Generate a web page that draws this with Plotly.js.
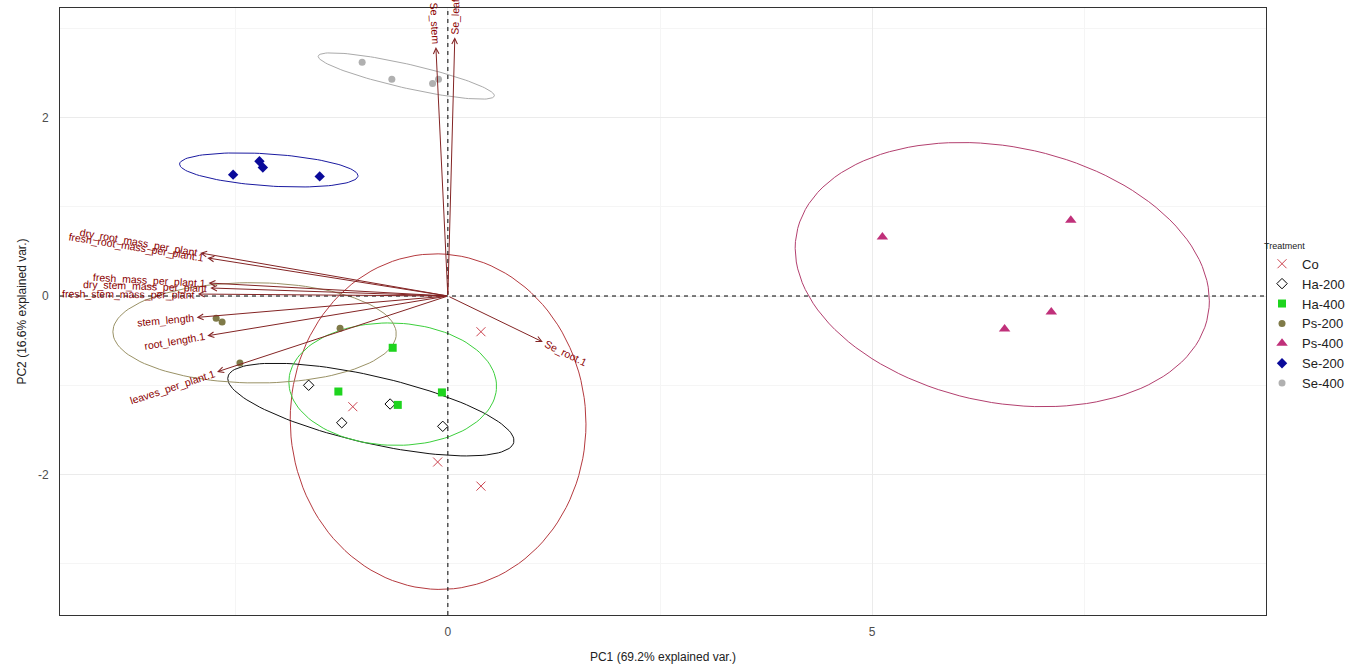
<!DOCTYPE html>
<html><head><meta charset="utf-8">
<script src="https://cdn.plot.ly/plotly-3.0.1.min.js"></script>
<style>html,body{margin:0;padding:0;background:#fff}#chart{width:1352px;height:669px}</style>
</head><body><div id="chart"></div>
<script>
// ---- scores (PC1, PC2) per treatment ----
const groupNames = ['Co','Ha-200','Ha-400','Ps-200','Ps-400','Se-200','Se-400'];
const coX    = [0.39, -1.12, -0.12, 0.39];
const coY    = [-0.40, -1.24, -1.86, -2.13];
const ha200X = [-1.64, -1.25, -0.68, -0.06];
const ha200Y = [-1.00, -1.42, -1.21, -1.46];
const ha400X = [-0.65, -1.29, -0.59, -0.07];
const ha400Y = [-0.58, -1.07, -1.22, -1.08];
const ps200X = [-2.73, -2.66, -1.27, -2.45];
const ps200Y = [-0.25, -0.29, -0.36, -0.75];
const ps400X = [5.12, 7.34, 6.56, 7.11];
const ps400Y = [0.66, 0.85, -0.37, -0.18];
const se200X = [-2.53, -2.22, -2.18, -1.51];
const se200Y = [1.36, 1.51, 1.44, 1.34];
const se400X = [-1.01, -0.66, -0.18, -0.11];
const se400Y = [2.62, 2.43, 2.38, 2.43];

// ---- loadings (arrow ends) ----
const varNames = ['dry_root_mass_per_plant','fresh_root_mass_per_plant.1','fresh_mass_per_plant.1',
  'dry_stem_mass_per_plant','fresh_stem_mass_per_plant','stem_length','root_length.1',
  'leaves_per_plant.1','Se_root.1','Se_stem','Se_leaf'];
const loadX = [-2.92, -2.835, -2.82, -2.80, -2.945, -2.96, -2.835, -2.72, 1.119, -0.141, 0.082];
const loadY = [0.483, 0.427, 0.146, 0.09, 0.022, -0.24, -0.446, -0.85, -0.515, 2.79, 2.90];

// ---- axis ticks ----
const xTickVals = [0, 5];
const yTickVals = [-2, 0, 2];

const W = 1352, H = 669, M = {l:60, r:86, t:8, b:54, autoexpand:false};
const xr = [-4.57, 9.64], yr = [-3.574, 3.227];
const pxX = (W - M.l - M.r) / (xr[1] - xr[0]);
const pxY = (H - M.t - M.b) / (yr[1] - yr[0]);

const groupData = [[coX,coY],[ha200X,ha200Y],[ha400X,ha400Y],[ps200X,ps200Y],[ps400X,ps400Y],[se200X,se200Y],[se400X,se400Y]];
const colors = ['#cc4450','#000000','#1ed41e','#7f7a48','#c0307a','#0a0a9a','#b0b0b0'];
const lineColors = ['#b53a3f','#111111','#3ccf3c','#9a9266','#b3406f','#1a1aa0','#aaaaaa'];
const symbols = ['x-thin-open','diamond-open','square','circle','triangle-up','diamond','circle'];
const sizes = [9, 8, 8, 7, 10, 8, 7];

function mean(a){return a.reduce((s,v)=>s+v,0)/a.length;}
function ellipse(xs, ys){
  const n = xs.length, mx = mean(xs), my = mean(ys);
  let sxx=0, syy=0, sxy=0;
  for(let i=0;i<n;i++){const dx=xs[i]-mx, dy=ys[i]-my; sxx+=dx*dx; syy+=dy*dy; sxy+=dx*dy;}
  sxx/=(n-1); syy/=(n-1); sxy/=(n-1);
  const a=Math.sqrt(sxx), b=sxy/a, c=Math.sqrt(Math.max(syy-b*b,0));
  const ed=Math.sqrt(-2*Math.log(0.05));
  const ex=[], ey=[];
  for(let t=0;t<=120;t++){const th=-Math.PI+2*Math.PI*t/120; const co=Math.cos(th), si=Math.sin(th);
    ex.push(mx+ed*a*co); ey.push(my+ed*(b*co+c*si));}
  return [ex,ey];
}

const traces = [];
groupData.forEach((g,i)=>{
  const [ex,ey] = ellipse(g[0], g[1]);
  traces.push({x:ex, y:ey, type:'scatter', mode:'lines', line:{color:lineColors[i], width:1}, showlegend:false, hoverinfo:'skip'});
});
groupData.forEach((g,i)=>{
  const isOpen = symbols[i].indexOf('open')>=0;
  traces.push({x:g[0], y:g[1], type:'scatter', mode:'markers', name:groupNames[i],
    marker:{symbol:symbols[i], size:sizes[i], color:colors[i], line:{color:colors[i], width:isOpen?1:0}}});
});

const ctx = document.createElement('canvas').getContext('2d');
const labFont = 10.5;
ctx.font = labFont + 'px "Liberation Sans"';
const annotations = [];
varNames.forEach((nm,i)=>{
  annotations.push({x:loadX[i], y:loadY[i], ax:0, ay:0, xref:'x', yref:'y', axref:'x', ayref:'y',
    text:'', showarrow:true, arrowhead:5, arrowsize:1.1, arrowwidth:1, arrowcolor:'#832424', standoff:0, startstandoff:0});
  const dx = loadX[i]*pxX, dy = loadY[i]*pxY;
  const L = Math.hypot(dx,dy), ux = dx/L, uy = dy/L;
  const w = ctx.measureText(nm).width;
  const d = w/2 + 3;
  const ang = -Math.atan(dy/dx)*180/Math.PI;
  annotations.push({x:loadX[i], y:loadY[i], xref:'x', yref:'y', text:nm, showarrow:false,
    textangle:ang, xanchor:'center', yanchor:'middle', xshift:ux*d, yshift:uy*d, borderpad:0,
    font:{family:'Liberation Sans, Arial, sans-serif', size:labFont, color:'#8b0000'}});
});

const layout = {
  width:W, height:H, margin:M, paper_bgcolor:'#fff', plot_bgcolor:'#fff',
  font:{family:'Liberation Sans, Arial, sans-serif'},
  xaxis:{range:xr, tickvals:xTickVals, ticktext:xTickVals.map(String), showgrid:true, gridcolor:'#ebebeb', gridwidth:1,
    minor:{dtick:2.5, tick0:0, showgrid:true, gridcolor:'#f5f5f5', gridwidth:1},
    zeroline:false, showline:true, mirror:true, linecolor:'#333', linewidth:1, ticks:'', ticklabelstandoff:6,
    tickfont:{size:12, color:'#4d4d4d'},
    title:{text:'PC1 (69.2% explained var.)', font:{size:12, color:'#222'}}},
  yaxis:{range:yr, tickvals:yTickVals, ticktext:yTickVals.map(String), showgrid:true, gridcolor:'#ebebeb', gridwidth:1,
    minor:{dtick:1, tick0:0, showgrid:true, gridcolor:'#f5f5f5', gridwidth:1},
    zeroline:false, showline:true, mirror:true, linecolor:'#333', linewidth:1, ticks:'', ticklabelstandoff:8,
    tickfont:{size:12, color:'#4d4d4d'},
    title:{text:'PC2 (16.6% explained var.)', font:{size:12, color:'#222'}}},
  shapes:[
    {type:'line', xref:'x', yref:'paper', x0:0, x1:0, y0:0, y1:1, line:{color:'#000', width:1, dash:'4px,4px'}},
    {type:'line', xref:'paper', yref:'y', x0:0, x1:1, y0:0, y1:0, line:{color:'#000', width:1, dash:'4px,4px'}}
  ],
  annotations:annotations,
  legend:{x:0.9967, xanchor:'left', y:0.49, yanchor:'middle', bgcolor:'rgba(0,0,0,0)',
    title:{text:'Treatment', font:{size:9, color:'#222'}}, font:{size:13, color:'#222'}, tracegroupgap:0, itemwidth:30},
  showlegend:true
};
Plotly.newPlot('chart', traces, layout, {displayModeBar:false, staticPlot:true});
</script></body></html>
